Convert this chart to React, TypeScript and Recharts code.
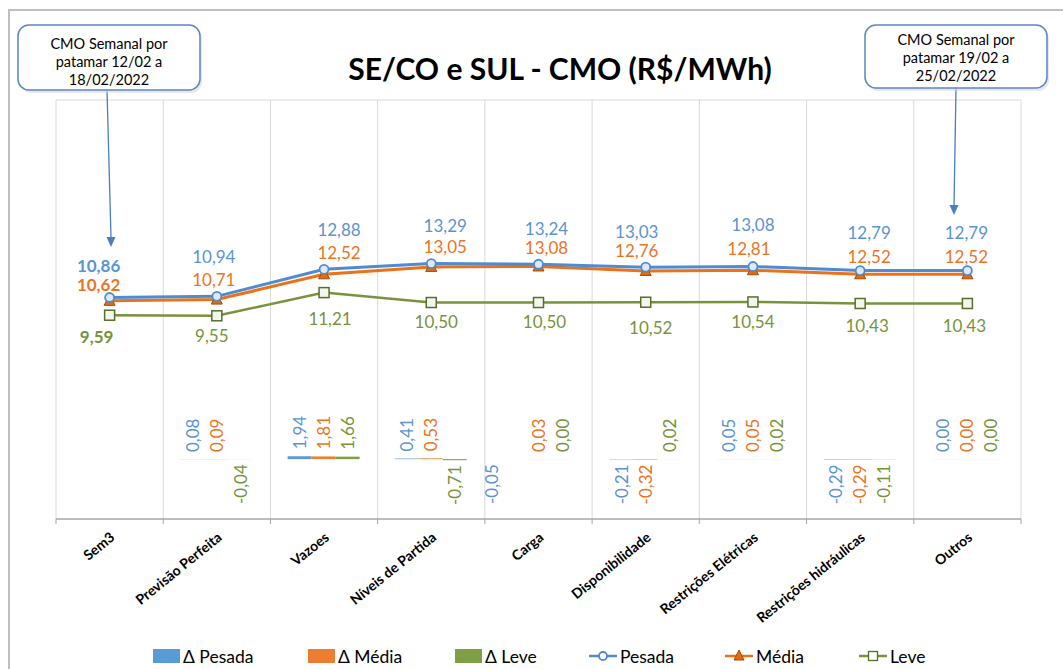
import React from "react";
import { ComposedChart, Bar, Line, XAxis, YAxis, CartesianGrid, LabelList } from "recharts";

const categories = [
  "Sem3",
  "Previsão Perfeita",
  "Vazoes",
  "Níveis de Partida",
  "Carga",
  "Disponibilidade",
  "Restrições Elétricas",
  "Restrições hidráulicas",
  "Outros",
];
const deltaPesada = [null, 0.08, 1.94, 0.41, -0.05, -0.21, 0.05, -0.29, 0.0];
const deltaMedia = [null, 0.09, 1.81, 0.53, 0.03, -0.32, 0.05, -0.29, 0.0];
const deltaLeve = [null, -0.04, 1.66, -0.71, 0.0, 0.02, 0.02, -0.11, 0.0];
const pesada = [10.86, 10.94, 12.88, 13.29, 13.24, 13.03, 13.08, 12.79, 12.79];
const media = [10.62, 10.71, 12.52, 13.05, 13.08, 12.76, 12.81, 12.52, 12.52];
const leve = [9.59, 9.55, 11.21, 10.5, 10.5, 10.52, 10.54, 10.43, 10.43];

const data = categories.map((cat, i) => ({
  cat,
  dPesada: deltaPesada[i],
  dMedia: deltaMedia[i],
  dLeve: deltaLeve[i],
  pesada: pesada[i],
  media: media[i],
  leve: leve[i],
}));

const W = 1063;
const H = 669;
const M = { top: 100, right: 42, bottom: 0, left: 56 };
const FONT = "Lato, 'Open Sans', sans-serif";
const BAND = (W - M.left - M.right) / categories.length;

const BLUE = "#5B9BD5";
const BLUE_LINE = "#4F8BD0";
const ORANGE = "#ED7D31";
const ORANGE_LINE = "#EC7118";
const GREEN = "#77933C";
const GREEN_BAR = "#7E9F45";

// manual label nudges (Excel labels were dragged by hand)
const PES_OFF = [[-11, -32], [-3, -40], [15, -40], [14, -38], [8, -36], [-9, -36], [0, -42], [9, -38], [-1, -38]];
const MED_OFF = [[-11, -16], [-3, -20], [15, -22], [14, -20], [8, -19], [-9, -20], [-4, -22], [9, -18], [-1, -18]];
const LEV_OFF = [[-13, 21], [-5, 20], [6, 26], [5, 19], [6, 19], [5, 25], [0, 20], [7, 22], [-3, 22]];
// the "-0,05" of Carga sits left of its bar in the original (bar labels skip the empty Sem3 entry)
const DP_NUDGE: Record<number, number> = { 3: -23 };

const fmt = (v: number) => v.toFixed(2).replace(".", ",");

const barLabel = (color: string, nudge: Record<number, number> = {}) => (props: any) => {
  const { x, y, width, height, value, index } = props;
  if (value == null) return null;
  const cx = x + width / 2 + (nudge[index] ?? 0);
  const top = Math.min(y, y + height);
  const bottom = Math.max(y, y + height);
  const neg = value < 0;
  const ay = neg ? bottom + 5 : top - 7;
  return (
    <text
      key={`bl-${index}`}
      x={cx}
      y={ay}
      transform={`rotate(-90 ${cx} ${ay})`}
      textAnchor={neg ? "end" : "start"}
      dominantBaseline="central"
      fill={color}
      fontSize={17}
      fontFamily={FONT}
    >
      {fmt(value)}
    </text>
  );
};

const lineLabel = (color: string, offs: number[][]) => (props: any) => {
  const { x, y, value, index } = props;
  if (value == null) return null;
  const [dx, dy] = offs[index];
  return (
    <text
      key={`ll-${index}`}
      x={x + dx}
      y={y + dy}
      textAnchor="middle"
      dominantBaseline="central"
      fill={color}
      fontSize={17}
      fontWeight={index === 0 ? 700 : 400}
      fontFamily={FONT}
    >
      {fmt(value)}
    </text>
  );
};

const CircleDot = (props: any) => {
  const { cx, cy, index } = props;
  return <circle key={`c-${index}`} cx={cx} cy={cy} r={4.5} fill="#DCE9F7" stroke={BLUE_LINE} strokeWidth={1.8} />;
};

const TriDot = (props: any) => {
  const { cx, cy, index } = props;
  return (
    <path
      key={`t-${index}`}
      d={`M${cx},${cy - 6} L${cx + 5.5},${cy + 4.5} L${cx - 5.5},${cy + 4.5} Z`}
      fill="#E46C0A"
      stroke="#A5470B"
      strokeWidth={1}
    />
  );
};

const SquareDot = (props: any) => {
  const { cx, cy, index } = props;
  return <rect key={`s-${index}`} x={cx - 5} y={cy - 5} width={10} height={10} fill="#F4F6EE" stroke="#56702A" strokeWidth={1.5} />;
};

const CatTick = (props: any) => {
  const { x, y, payload, index } = props;
  return (
    <g>
      <line x1={x - BAND / 2} y1={y} x2={x - BAND / 2} y2={y + 5} stroke="#A6A6A6" />
      {index === categories.length - 1 && (
        <line x1={x + BAND / 2} y1={y} x2={x + BAND / 2} y2={y + 5} stroke="#A6A6A6" />
      )}
      <text
        x={x + 6}
        y={y + 20}
        transform={`rotate(-39 ${x + 6} ${y + 20})`}
        textAnchor="end"
        fontSize={14}
        fontWeight={700}
        fontFamily={FONT}
        fill="#000"
      >
        {payload.value}
      </text>
    </g>
  );
};

const legendItems = [
  { label: "Δ Pesada", kind: "bar", color: BLUE, left: 153 },
  { label: "Δ Média", kind: "bar", color: ORANGE, left: 308 },
  { label: "Δ Leve", kind: "bar", color: GREEN_BAR, left: 455 },
  { label: "Pesada", kind: "circle", color: BLUE_LINE, left: 588 },
  { label: "Média", kind: "tri", color: ORANGE_LINE, left: 724 },
  { label: "Leve", kind: "square", color: GREEN, left: 858 },
];

function LegendIcon({ kind, color }: { kind: string; color: string }) {
  if (kind === "bar") {
    return (
      <svg width={28} height={16}>
        <rect x={0} y={1} width={27} height={14} fill={color} />
      </svg>
    );
  }
  return (
    <svg width={30} height={16}>
      <line x1={1} y1={8} x2={29} y2={8} stroke={color} strokeWidth={2.5} />
      {kind === "circle" && <circle cx={15} cy={8} r={4} fill="#fff" stroke={color} strokeWidth={1.8} />}
      {kind === "tri" && <path d="M15,2 L20,12 L10,12 Z" fill="#E46C0A" stroke="#A5470B" strokeWidth={1} />}
      {kind === "square" && <rect x={10.5} y={3.5} width={9} height={9} fill="#fff" stroke="#56702A" strokeWidth={1.3} />}
    </svg>
  );
}

function Callout({ x, y, w, h, lines, tx, ty, ax, ay }: any) {
  return (
    <g>
      <line x1={tx} y1={y + h} x2={ax} y2={ay - 9} stroke="#4A7EC0" strokeWidth={1.3} />
      <path d={`M${ax - 4.5},${ay - 10} L${ax + 4.5},${ay - 10} L${ax},${ay} Z`} fill="#4A7EC0" />
      <rect x={x + 2} y={y + 3} width={w} height={h} rx={11} fill="#d8d8d8" opacity={0.6} />
      <rect x={x} y={y} width={w} height={h} rx={11} fill="#fff" stroke="#5B86C5" strokeWidth={1.5} />
      {lines.map((t: string, i: number) => (
        <text key={i} x={x + w / 2} y={ty + i * 18} textAnchor="middle" dominantBaseline="central" fontSize={14.5} fontFamily={FONT} fill="#000">
          {t}
        </text>
      ))}
    </g>
  );
}

export default function App() {
  return (
    <div style={{ position: "fixed", left: 0, top: 0, width: W, height: H, background: "#fff", overflow: "hidden", fontFamily: FONT }}>
      <div
        style={{
          position: "absolute",
          left: 8,
          top: 9,
          width: 1200,
          height: 800,
          borderLeft: "2px solid #BFBFBF",
          borderTop: "2px solid #BFBFBF",
        }}
      />
      <ComposedChart
        width={W}
        height={H}
        data={data}
        margin={M}
        barCategoryGap="16%"
        barGap={0}
        style={{ position: "absolute", left: 0, top: 0 }}
      >
        <CartesianGrid
          stroke="#D9D9D9"
          verticalCoordinatesGenerator={({ offset }: any) =>
            categories.map((_, i) => offset.left + i * (offset.width / categories.length)).concat(offset.left + offset.width)
          }
          horizontalCoordinatesGenerator={({ offset }: any) => [offset.top]}
        />
        <XAxis
          dataKey="cat"
          height={150}
          interval={0}
          axisLine={{ stroke: "#A6A6A6", strokeWidth: 1.5 }}
          tickLine={false}
          tickSize={0}
          tickMargin={0}
          tick={<CatTick />}
        />
        <YAxis hide domain={[-40, 240]} />
        <YAxis hide yAxisId="line" domain={[-5, 25]} />
        <Bar dataKey="dPesada" fill={BLUE} minPointSize={0.05} isAnimationActive={false}>
          <LabelList dataKey="dPesada" content={barLabel("#5B93D3", DP_NUDGE)} />
        </Bar>
        <Bar dataKey="dMedia" fill={ORANGE} minPointSize={0.05} isAnimationActive={false}>
          <LabelList dataKey="dMedia" content={barLabel("#EB7424")} />
        </Bar>
        <Bar dataKey="dLeve" fill={GREEN_BAR} minPointSize={0.05} isAnimationActive={false}>
          <LabelList dataKey="dLeve" content={barLabel(GREEN)} />
        </Bar>
        <Line
          yAxisId="line"
          dataKey="leve"
          stroke={GREEN}
          strokeWidth={2.5}
          dot={<SquareDot />}
          activeDot={false}
          isAnimationActive={false}
        >
          <LabelList dataKey="leve" content={lineLabel(GREEN, LEV_OFF)} />
        </Line>
        <Line
          yAxisId="line"
          dataKey="media"
          stroke={ORANGE_LINE}
          strokeWidth={3}
          dot={<TriDot />}
          activeDot={false}
          isAnimationActive={false}
        >
          <LabelList dataKey="media" content={lineLabel("#EB7424", MED_OFF)} />
        </Line>
        <Line
          yAxisId="line"
          dataKey="pesada"
          stroke={BLUE_LINE}
          strokeWidth={3}
          dot={<CircleDot />}
          activeDot={false}
          isAnimationActive={false}
        >
          <LabelList dataKey="pesada" content={lineLabel("#5B93D3", PES_OFF)} />
        </Line>
      </ComposedChart>
      <svg width={W} height={H} style={{ position: "absolute", left: 0, top: 0, pointerEvents: "none" }}>
        <text x={560} y={68} textAnchor="middle" dominantBaseline="central" fontSize={30} fontWeight={700} fontFamily={FONT} fill="#000">
          SE/CO e SUL - CMO (R$/MWh)
        </text>
        <Callout x={18} y={25} w={182} h={65} tx={107} ty={43} ax={111} ay={247} lines={["CMO Semanal por", "patamar 12/02 a", "18/02/2022"]} />
        <Callout x={865} y={25} w={182} h={63} tx={956} ty={39} ax={954} ay={215} lines={["CMO Semanal por", "patamar 19/02 a", "25/02/2022"]} />
      </svg>
      {legendItems.map((it) => (
        <div
          key={it.label}
          style={{ position: "absolute", left: it.left, top: 645, height: 22, display: "flex", alignItems: "center", fontSize: 17.5, color: "#000", whiteSpace: "nowrap" }}
        >
          <LegendIcon kind={it.kind} color={it.color} />
          <span style={{ marginLeft: 2 }}>{it.label}</span>
        </div>
      ))}
    </div>
  );
}
